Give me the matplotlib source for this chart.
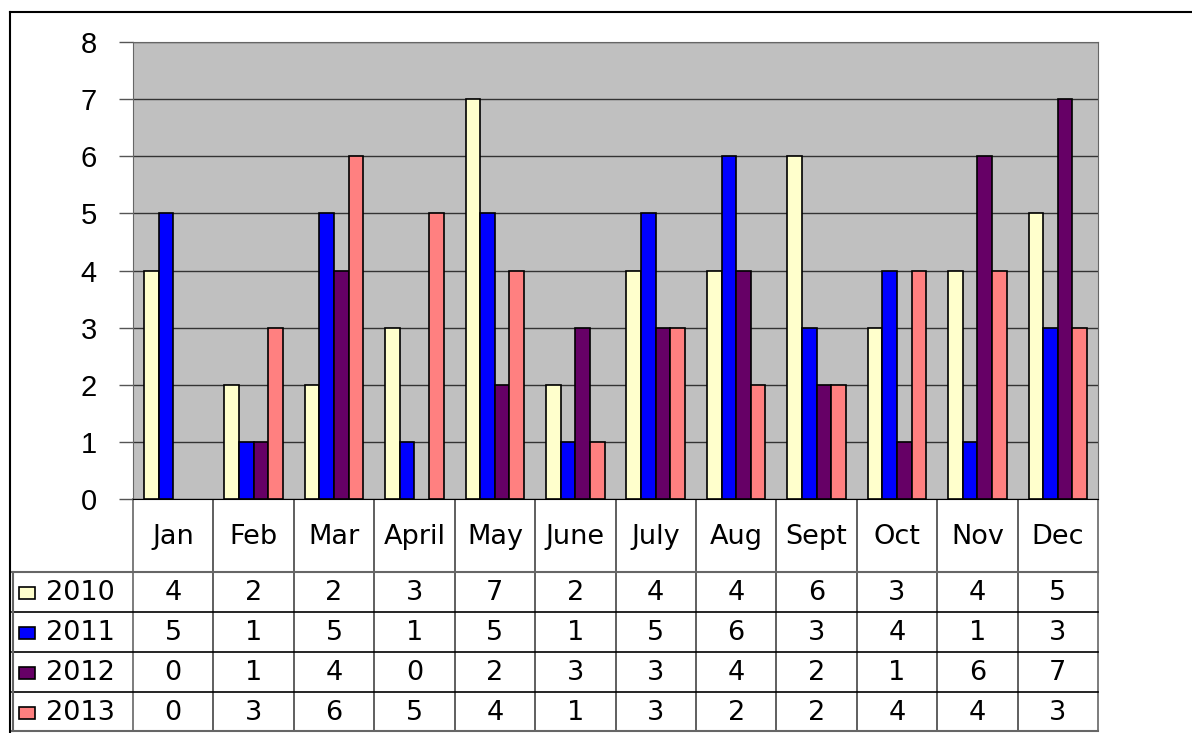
import numpy as np
import matplotlib.pyplot as plt
from matplotlib.patches import Rectangle

# monthly counts per year
months = ["Jan", "Feb", "Mar", "April", "May", "June",
          "July", "Aug", "Sept", "Oct", "Nov", "Dec"]
years = ["2010", "2011", "2012", "2013"]
v2010 = [4, 2, 2, 3, 7, 2, 4, 4, 6, 3, 4, 5]
v2011 = [5, 1, 5, 1, 5, 1, 5, 6, 3, 4, 1, 3]
v2012 = [0, 1, 4, 0, 2, 3, 3, 4, 2, 1, 6, 7]
v2013 = [0, 3, 6, 5, 4, 1, 3, 2, 2, 4, 4, 3]
series = [v2010, v2011, v2012, v2013]
colors = ["#FFFFCC", "#0000FF", "#660066", "#FF8080"]

W, H = 1192, 733
fig = plt.figure(figsize=(W / 100, H / 100), dpi=100)

# pixel geometry of the plot area
px_left, px_right = 133, 1098
px_top, px_bottom = 42, 499
ax = fig.add_axes([px_left / W, (H - px_bottom) / H,
                   (px_right - px_left) / W, (px_bottom - px_top) / H])
ax.set_facecolor("#C0C0C0")

n = len(months)
x = np.arange(n)
bw = 1 / (len(series) + 1.5)
for k, (vals, c) in enumerate(zip(series, colors)):
    bars = ax.bar(x + 0.75 * bw + k * bw, vals, width=bw, align="edge",
                  color=c, edgecolor="black", linewidth=1.2, zorder=3)
    for b, v in zip(bars, vals):
        if v == 0:
            b.set_visible(False)  # excel draws nothing for zeros

ax.set_xlim(0, n)
ax.set_ylim(0, 8)
ax.set_yticks(range(9), labels=[str(i) for i in range(9)],
              fontfamily="Liberation Sans", fontsize=21)
ax.set_xticks([])
ax.yaxis.grid(True, color="#333333", linewidth=1)
ax.set_axisbelow(True)
ax.tick_params(axis="y", length=10, width=1, color="#555555", pad=16)
for s in ["top", "right", "left"]:
    ax.spines[s].set_color("#666666")
ax.spines["bottom"].set_color("black")

# overlay in pixel units for the data table and outer frame
ov = fig.add_axes([0, 0, 1, 1], zorder=-1)
ov.set_xlim(0, W)
ov.set_ylim(H, 0)
ov.axis("off")

colw = (px_right - px_left) / n
row_y = [572, 612, 652, 692, 731]
gray = "#666666"
fs = 19.5
tfont = dict(family="DejaVu Sans", fontsize=fs, ha="center", va="center")

# outer chart frame
ov.plot([10, W], [12, 12], color="black", lw=1.5)
ov.plot([10, 10], [12, H], color="black", lw=1.5)

# column lines
for k in range(n + 1):
    xk = px_left + k * colw
    ov.plot([xk, xk], [px_bottom, row_y[-1]],
            color=gray if k in (0, n) else "#444444", lw=1.2)
# row lines
ov.plot([12, px_right], [row_y[0], row_y[0]], color=gray, lw=1.5)
for yk in row_y[1:-1]:
    ov.plot([12, px_right], [yk, yk], color="black", lw=1.2)
ov.plot([12, px_right], [row_y[-1], row_y[-1]], color=gray, lw=1.5)
ov.plot([13, 13], [row_y[0], row_y[-1]], color=gray, lw=1.5)

# month labels
for k, m in enumerate(months):
    ov.text(px_left + (k + 0.5) * colw, 537, m, **tfont)

# series rows
for r, (yr, vals, c) in enumerate(zip(years, series, colors)):
    yc = (row_y[r] + row_y[r + 1]) / 2 + 1
    ov.add_patch(Rectangle((19, yc - 6), 16, 12, facecolor=c,
                           edgecolor="black", lw=1.2))
    ov.text(46, yc, yr, family="DejaVu Sans", fontsize=fs,
            ha="left", va="center")
    for k, v in enumerate(vals):
        ov.text(px_left + (k + 0.5) * colw, yc, str(v), **tfont)

fig.savefig("out.png", dpi=100)
